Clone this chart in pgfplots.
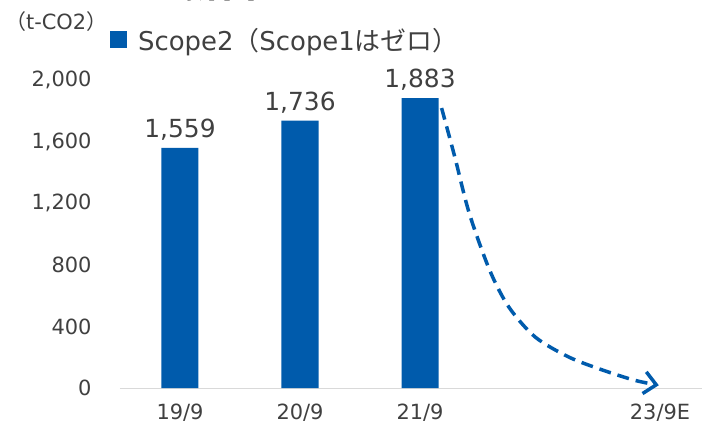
\documentclass[border=0pt]{standalone}
\usepackage{fontspec}
\setmainfont{DejaVu Sans}
\newfontfamily\cjk{Noto Sans CJK JP}
\usepackage{pgfplots}
\pgfplotsset{compat=1.18}
\usetikzlibrary{arrows.meta}
\definecolor{barblue}{HTML}{005BAC}
\definecolor{txtgray}{HTML}{404040}
\definecolor{basegray}{HTML}{D9D9D9}

\begin{document}
\begin{tikzpicture}
\begin{axis}[
    at={(0,0)}, anchor=south west,
    scale only axis,
    width=582bp, height=308bp,
    xmin=-0.5, xmax=4.35,
    ymin=0, ymax=2000,
    clip=false,
    axis x line*=bottom,
    axis y line*=left,
    x axis line style={draw=basegray, line width=1bp, -},
    y axis line style={draw=none},
    major tick length=0pt,
    xtick={0,1,2,4},
    xticklabels={19/9,20/9,21/9,23/9E},
    ytick={0,400,...,2000},
    /pgf/number format/1000 sep={,},
    /pgf/number format/assume math mode=true,
    ticklabel style={text=txtgray, font=\fontsize{21}{25}\selectfont},
    yticklabel style={xshift=-25bp},
    xticklabel style={yshift=-12bp},
    legend style={at={(-10bp,348bp)}, anchor=west, draw=none, fill=none,
        font=\fontsize{26}{30}\selectfont, text=txtgray, inner sep=0pt},
    legend image code/.code={\fill[barblue] (0bp,-8.5bp) rectangle (17bp,8.5bp);},
    legend cell align=left,
]
\addplot[ybar, bar width=37bp, fill=barblue, draw=none,
    nodes near coords,
    nodes near coords style={text=txtgray, font=\fontsize{25}{30}\selectfont, yshift=4bp,
        /pgf/number format/1000 sep={,}, /pgf/number format/assume math mode=true}]
    coordinates {(0,1559) (1,1736) (2,1883)};
\addlegendentry{\hspace{9bp}Scope2{\cjk （}Scope1{\cjk はゼロ）}}
\addplot[smooth, barblue, line width=3.5bp, dash pattern=on 12bp off 7bp,
    -{Straight Barb[length=12bp, width=22bp, line width=3.5bp]}, forget plot]
    coordinates {(2.18,1818) (2.29,1500) (2.41,1136) (2.58,766) (2.74,526)
      (2.96,331) (3.24,201) (3.52,117) (3.79,50) (3.99,18)};
\end{axis}
\node[anchor=west, text=txtgray, font=\fontsize{21}{25}\selectfont, inner sep=0pt]
    at (-115bp,366bp) {{\cjk （}t-CO2{\cjk ）}};
\node[anchor=base west, inner sep=0pt, font=\fontsize{36}{40}\selectfont\bfseries]
    at (-15bp,390bp) {\cjk GHG排出量};
\pgfresetboundingbox
\useasboundingbox (-120bp,-39bp) rectangle (582bp,388bp);
\end{tikzpicture}
\end{document}
